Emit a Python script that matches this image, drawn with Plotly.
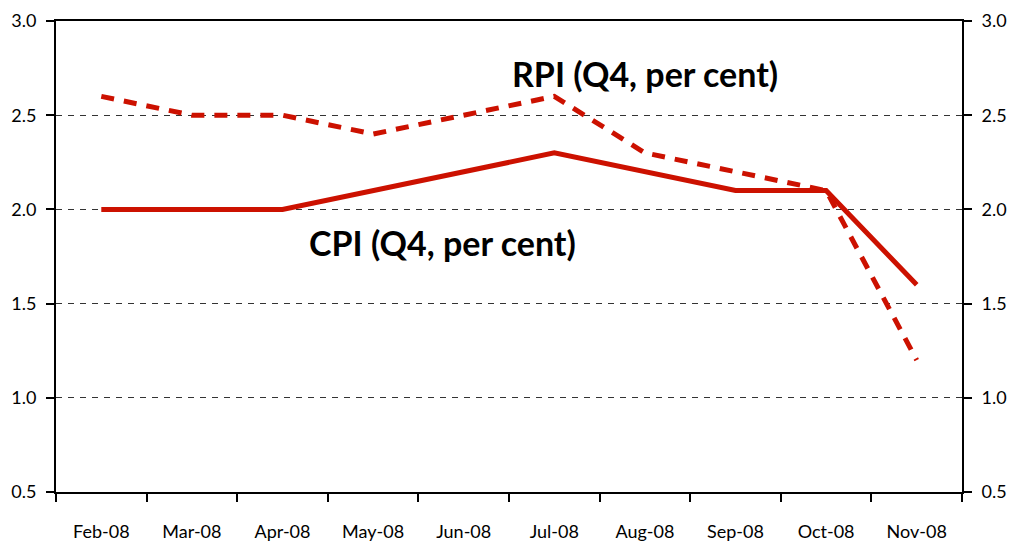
import plotly.graph_objects as go

months = ["Feb-08", "Mar-08", "Apr-08", "May-08", "Jun-08", "Jul-08", "Aug-08", "Sep-08", "Oct-08", "Nov-08"]
cpi = [2.0, None, 2.0, None, None, 2.3, None, 2.1, 2.1, 1.6]
rpi = [2.6, 2.5, 2.5, 2.4, 2.5, 2.6, 2.3, 2.2, 2.1, 1.2]
y_ticks = [0.5, 1.0, 1.5, 2.0, 2.5, 3.0]
y_labels = ["0.5", "1.0", "1.5", "2.0", "2.5", "3.0"]

RED = "#CC1100"
FONT = "Lato"

fig = go.Figure()
fig.add_trace(go.Scatter(x=months, y=rpi, mode="lines", connectgaps=True,
                         line=dict(color=RED, width=5, dash="13px,10px"), hoverinfo="skip"))
fig.add_trace(go.Scatter(x=months, y=cpi, mode="lines", connectgaps=True,
                         line=dict(color=RED, width=5), hoverinfo="skip"))
# invisible trace to drive the right-hand axis
fig.add_trace(go.Scatter(x=months, y=cpi, mode="lines", connectgaps=True, yaxis="y2",
                         line=dict(color="rgba(0,0,0,0)", width=0), hoverinfo="skip"))

axis_y = dict(range=[0.5, 3.0], tickvals=y_ticks, ticktext=y_labels,
              ticks="outside", ticklen=8, tickwidth=1.5, tickcolor="black",
              showline=True, linecolor="black", linewidth=2, automargin=False,
              tickfont=dict(family=FONT, size=18, color="black"), zeroline=False)

fig.update_layout(
    width=1009, height=544,
    margin=dict(l=56, r=47, t=21, b=52, autoexpand=False),
    paper_bgcolor="white", plot_bgcolor="white",
    showlegend=False,
    font=dict(family=FONT, color="black"),
    xaxis=dict(type="category", ticks="outside", tickson="boundaries", ticklen=8,
               tickwidth=1.5, tickcolor="black", showline=True, linecolor="black",
               linewidth=2, mirror=True, showgrid=False, automargin=False,
               tickfont=dict(family=FONT, size=18, color="black"),
               ticklabelstandoff=22, range=[-0.5, 9.5]),
    yaxis=dict(**axis_y, showgrid=True, gridcolor="#333333", gridwidth=1, griddash="6px,6px",
               ticklabelstandoff=6),
    yaxis2=dict(**axis_y, overlaying="y", side="right", showgrid=False, ticklabelstandoff=6),
    annotations=[
        dict(text="<b>RPI (Q4, per cent)</b>", xref="paper", yref="y", x=0.650, y=2.724,
             showarrow=False, font=dict(family=FONT, size=34, color="black")),
        dict(text="<b>CPI (Q4, per cent)</b>", xref="paper", yref="y", x=0.427, y=1.822,
             showarrow=False, font=dict(family=FONT, size=34, color="black")),
    ],
)

fig.write_html("out.html",
               config={"displayModeBar": False},
               post_script="document.body.style.margin='0';document.body.style.overflow='hidden';")
